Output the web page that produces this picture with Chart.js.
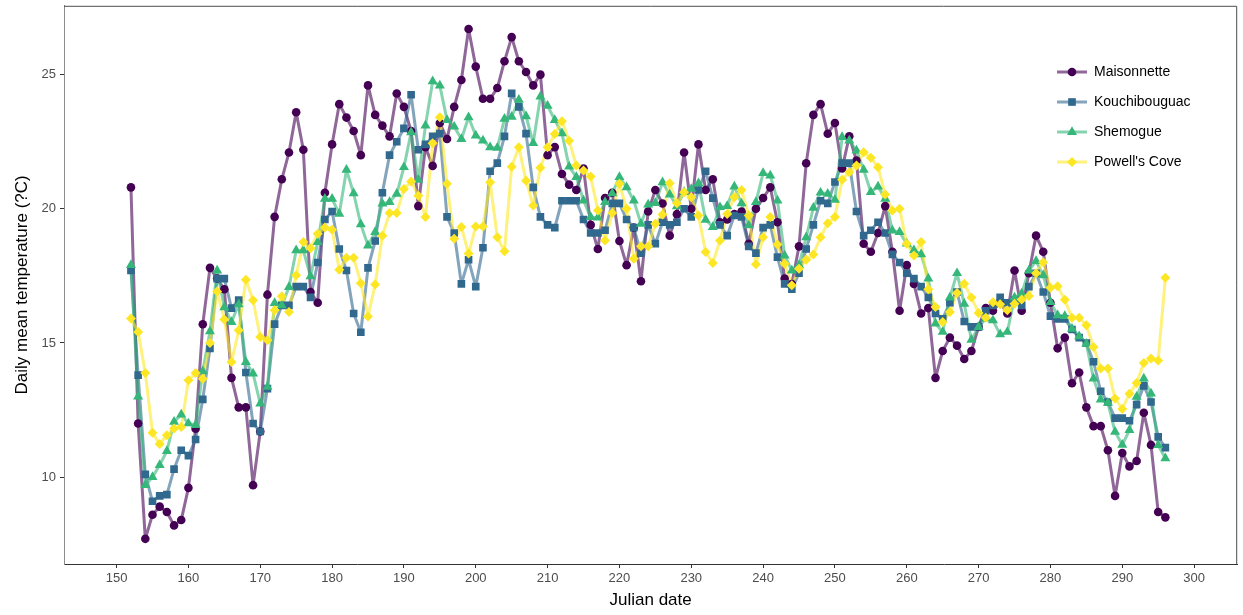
<!DOCTYPE html>
<html>
<head>
<meta charset="utf-8">
<script src="https://cdn.jsdelivr.net/npm/chart.js@4/dist/chart.umd.min.js"></script>
<style>
  html, body { margin: 0; padding: 0; background: #fff; }
  #wrap { width: 1243px; height: 615px; position: relative; }
</style>
</head>
<body>
<div id="wrap"><canvas id="tempChart"></canvas></div>
<script>
const julianDays = [
    152, 153, 154, 155, 156, 157, 158, 159, 160, 161,
    162, 163, 164, 165, 166, 167, 168, 169, 170, 171,
    172, 173, 174, 175, 176, 177, 178, 179, 180, 181,
    182, 183, 184, 185, 186, 187, 188, 189, 190, 191,
    192, 193, 194, 195, 196, 197, 198, 199, 200, 201,
    202, 203, 204, 205, 206, 207, 208, 209, 210, 211,
    212, 213, 214, 215, 216, 217, 218, 219, 220, 221,
    222, 223, 224, 225, 226, 227, 228, 229, 230, 231,
    232, 233, 234, 235, 236, 237, 238, 239, 240, 241,
    242, 243, 244, 245, 246, 247, 248, 249, 250, 251,
    252, 253, 254, 255, 256, 257, 258, 259, 260, 261,
    262, 263, 264, 265, 266, 267, 268, 269, 270, 271,
    272, 273, 274, 275, 276, 277, 278, 279, 280, 281,
    282, 283, 284, 285, 286, 287, 288, 289, 290, 291,
    292, 293, 294, 295, 296
];

const maisonnette = [
    20.8, 12.0, 7.7, 8.6, 8.9, 8.7, 8.2, 8.4, 9.6, 11.8,
    15.7, 17.8, 17.4, 17.0, 13.7, 12.6, 12.6, 9.7, 11.7, 16.8,
    19.7, 21.1, 22.1, 23.6, 22.2, 16.9, 16.5, 20.6, 22.4, 23.9,
    23.4, 22.9, 22.0, 24.6, 23.5, 23.1, 22.7, 24.3, 23.8, 22.9,
    20.1, 22.3, 21.6, 23.2, 22.6, 23.8, 24.8, 26.7, 25.3, 24.1,
    24.1, 24.5, 25.5, 26.4, 25.5, 25.1, 24.6, 25.0, 22.0, 22.3,
    21.3, 20.9, 20.7, 21.5, 19.4, 18.5, 20.4, 20.6, 18.8, 17.9,
    19.3, 17.3, 19.9, 20.7, 20.2, 19.0, 19.8, 22.1, 20.0, 22.4,
    20.7, 21.1, 19.5, 19.6, 19.8, 19.9, 18.7, 20.0, 20.4, 20.8,
    19.5, 17.4, 17.2, 18.6, 21.7, 23.5, 23.9, 22.8, 23.2, 21.5,
    22.7, 21.8, 18.7, 18.4, 19.1, 20.1, 18.4, 16.2, 17.9, 17.2,
    16.1, 16.3, 13.7, 14.7, 15.2, 14.9, 14.4, 14.7, 15.6, 16.3,
    16.2, 16.5, 16.1, 17.7, 16.2, 17.6, 19.0, 18.4, 16.5, 14.8,
    15.2, 13.5, 13.9, 12.6, 11.9, 11.9, 11.0, 9.3, 10.9, 10.4,
    10.6, 12.4, 11.2, 8.7, 8.5
];

const kouchibouguac = [
    17.7, 13.8, 10.1, 9.1, 9.3, 9.35, 10.3, 11.0, 10.8, 11.4,
    12.9, 14.8, 17.4, 17.4, 16.3, 16.6, 13.9, 12.0, 11.7, 13.3,
    15.7, 16.4, 16.4, 17.1, 17.1, 16.7, 18.0, 19.6, 19.9, 18.5,
    17.7, 16.1, 15.4, 17.8, 18.8, 20.6, 22.0, 22.5, 23.0, 24.25,
    22.2, 22.4, 22.7, 22.8, 19.7, 19.1, 17.2, 18.1, 17.1, 18.55,
    21.4, 21.7, 22.7, 24.3, 23.8, 22.8, 20.8, 19.7, 19.4, 19.3,
    20.3, 20.3, 20.3, 19.6, 19.1, 19.1, 19.2, 20.2, 20.2, 19.6,
    19.3, 18.35, 19.4, 18.7, 19.5, 19.4, 19.5, 20.0, 19.7, 20.7,
    21.4, 20.4, 19.4, 19.0, 19.75, 19.7, 18.6, 18.35, 19.3, 19.4,
    18.2, 17.2, 17.0, 17.6, 18.5, 19.4, 20.3, 20.2, 21.0, 21.7,
    21.7, 19.9, 19.0, 19.2, 19.5, 19.1, 18.3, 18.0, 17.6, 17.4,
    17.1, 16.7, 16.1, 15.9, 16.5, 16.9, 15.8, 15.6, 15.6, 16.2,
    16.4, 16.7, 16.5, 16.6, 16.4, 17.1, 17.6, 16.9, 16.0, 15.9,
    15.9, 15.5, 15.2, 15.0, 14.3, 13.2, 12.8, 12.2, 12.2, 12.1,
    12.7, 13.4, 12.8, 11.5, 11.1
];

const shemogue = [
    17.9, 13.0, 9.7, 10.0, 10.45, 10.97, 12.06, 12.33, 12.0, 11.94,
    13.94, 15.43, 17.7, 16.33, 15.78, 16.44, 14.29, 13.86, 12.74, 13.36,
    16.49, 16.4, 17.08, 18.45, 18.45, 17.48, 18.76, 20.37, 20.37, 19.81,
    21.45, 20.58, 19.42, 18.63, 19.13, 20.19, 20.25, 20.56, 21.55, 22.85,
    21.08, 23.1, 24.75, 24.59, 23.31, 23.06, 22.6, 23.41, 22.73, 22.54,
    22.29, 22.27, 23.35, 23.43, 24.06, 23.45, 22.45, 24.18, 23.84, 23.31,
    22.81, 21.57, 21.18, 20.31, 19.69, 19.67, 20.25, 20.58, 21.18, 20.8,
    20.31, 19.44, 20.16, 20.21, 20.99, 20.53, 20.09, 20.62, 20.74, 20.95,
    19.59, 19.32, 20.06, 20.1, 20.83, 20.2, 19.38, 20.25, 21.33, 21.24,
    20.31, 18.26, 17.7, 17.9, 18.94, 20.04, 20.6, 20.56, 20.33, 22.67,
    22.54, 22.17, 21.45, 20.62, 20.83, 20.37, 19.19, 19.13, 18.7, 18.45,
    18.3, 17.4, 15.72, 15.41, 16.69, 17.6, 16.46, 15.12, 15.59, 15.91,
    15.84, 15.32, 15.41, 16.69, 16.84, 17.7, 18.05, 17.52, 16.52, 16.03,
    16.0, 15.53, 15.25, 14.97, 13.67, 12.89, 12.77, 11.69, 11.2, 11.75,
    12.99, 13.67, 13.11, 11.19, 10.7
];

const powellsCove = [
    15.91, 15.41, 13.88, 11.65, 11.23, 11.56, 11.81, 11.87, 13.61, 13.88,
    13.67, 15.0, 16.92, 15.87, 14.29, 15.47, 17.36, 16.59, 15.22, 15.1,
    16.22, 16.74, 16.15, 17.52, 18.76, 18.53, 19.07, 19.3, 19.22, 17.73,
    18.18, 18.18, 17.23, 15.99, 17.18, 19.0, 19.84, 19.84, 20.74, 21.02,
    20.49, 19.69, 22.44, 23.41, 20.93, 18.88, 19.32, 18.33, 19.34, 19.34,
    20.99, 18.94, 18.42, 21.57, 22.29, 21.05, 20.12, 21.53, 22.29, 22.79,
    23.26, 22.54, 21.61, 21.43, 21.2, 19.94, 18.82, 19.84, 20.93, 20.0,
    18.14, 18.6, 18.6, 19.44, 19.79, 20.95, 20.21, 20.62, 20.43, 19.75,
    18.39, 17.98, 18.82, 19.81, 20.43, 20.7, 19.75, 17.93, 18.94, 19.69,
    18.67, 17.95, 17.15, 17.77, 18.1, 18.3, 18.94, 19.46, 19.69, 21.08,
    21.36, 21.61, 22.11, 21.9, 21.55, 20.53, 19.94, 20.0, 18.7, 18.26,
    18.76, 17.0, 16.34, 15.78, 16.15, 16.86, 17.21, 16.69, 16.12, 15.94,
    16.52, 16.44, 16.22, 16.46, 16.62, 16.75, 17.6, 18.01, 17.06, 17.11,
    16.61, 15.94, 15.94, 15.66, 14.85, 14.05, 14.05, 12.93, 12.54, 13.11,
    13.51, 14.25, 14.42, 14.35, 17.43
];

const siteNames = ['Maisonnette', 'Kouchibouguac', 'Shemogue', "Powell's Cove"];
const siteValues = [maisonnette, kouchibouguac, shemogue, powellsCove];
const xTicks = [150, 160, 170, 180, 190, 200, 210, 220, 230, 240, 250, 260, 270, 280, 290, 300];
const yTicks = [10, 15, 20, 25];

// viridis colours, ggplot shapes 16 / 15 / 17 / 18
const siteColors = [[68, 1, 84], [49, 104, 142], [53, 183, 121], [253, 231, 37]];
const siteShapes = ['circle', 'rect', 'triangle', 'rectRot'];
const siteSizes = [4.3, 5.4, 5.8, 5.0];

const rgba = (c, a) => `rgba(${c[0]}, ${c[1]}, ${c[2]}, ${a})`;
const toPoints = vals => julianDays.map((d, i) => ({ x: d, y: vals[i] }));

Chart.defaults.font.family = '"Liberation Sans", Arial, sans-serif';

const datasets = [];
// lines first (bottom), then points, like geom_line() + geom_point()
siteNames.forEach((name, i) => {
    datasets.push({
        label: name,
        data: toPoints(siteValues[i]),
        borderColor: rgba(siteColors[i], 0.6),
        borderWidth: 3,
        borderJoinStyle: 'round',
        borderCapStyle: 'round',
        pointRadius: 0,
        tension: 0,
        fill: false,
        order: 8 - i
    });
});
siteNames.forEach((name, i) => {
    datasets.push({
        label: name + ' pts',
        data: toPoints(siteValues[i]),
        showLine: false,
        pointStyle: siteShapes[i],
        pointRadius: siteSizes[i],
        pointBackgroundColor: rgba(siteColors[i], 1),
        pointBorderWidth: 0,
        order: 4 - i
    });
});

function drawShape(ctx, shape, x, y, r) {
    if (Chart.helpers && Chart.helpers.drawPoint) {
        Chart.helpers.drawPoint(ctx, { pointStyle: shape, radius: r, rotation: 0, borderWidth: 0 }, x, y);
        return;
    }
    ctx.beginPath();
    ctx.arc(x, y, r, 0, Math.PI * 2);
    ctx.fill();
}

const frameAndKey = {
    id: 'frameAndKey',
    afterDraw(chart) {
        const { ctx, chartArea: a } = chart;
        ctx.save();
        ctx.strokeStyle = '#4d4d4d';
        ctx.lineWidth = 1;
        ctx.beginPath();
        ctx.moveTo(a.left, a.top + 0.5);
        ctx.lineTo(a.right - 0.5, a.top + 0.5);
        ctx.lineTo(a.right - 0.5, a.bottom);
        ctx.stroke();

        siteNames.forEach((name, i) => {
            const y = 72 + i * 30;
            ctx.strokeStyle = rgba(siteColors[i], 0.6);
            ctx.lineWidth = 3;
            ctx.beginPath();
            ctx.moveTo(1057, y);
            ctx.lineTo(1087, y);
            ctx.stroke();
            ctx.fillStyle = rgba(siteColors[i], 1);
            drawShape(ctx, siteShapes[i], 1072, y, siteSizes[i]);
            ctx.fillStyle = '#000';
            ctx.font = '14px "Liberation Sans", Arial, sans-serif';
            ctx.textBaseline = 'middle';
            ctx.textAlign = 'left';
            ctx.fillText(name, 1094, y);
        });
        ctx.restore();
    }
};

new Chart(document.getElementById('tempChart'), {
    type: 'line',
    data: { datasets },
    options: {
        responsive: true,
        maintainAspectRatio: false,
        animation: false,
        layout: { padding: { top: 5, right: -3, left: 0, bottom: 0 } },
        plugins: {
            legend: { display: false },
            tooltip: { enabled: false }
        },
        scales: {
            x: {
                type: 'linear',
                min: 142.68,
                max: 306,
                afterBuildTicks: s => { s.ticks = xTicks.map(v => ({ value: v })); },
                afterFit: s => { s.height = 51; s.paddingLeft = 0; s.paddingRight = 0; },
                ticks: { color: '#4d4d4d', font: { size: 13 }, padding: 3, maxRotation: 0, autoSkip: false },
                grid: { drawOnChartArea: false, drawTicks: true, tickLength: 4, color: '#333' },
                border: { display: true, color: '#333', width: 1 },
                title: { display: true, text: 'Julian date', color: '#000', font: { size: 17 }, padding: { top: 0, bottom: 4 } }
            },
            y: {
                min: 6.762,
                max: 27.566,
                afterBuildTicks: s => { s.ticks = yTicks.map(v => ({ value: v })); },
                afterFit: s => { s.width = 64; s.paddingTop = 0; s.paddingBottom = 0; },
                ticks: { color: '#4d4d4d', font: { size: 13 }, padding: 4 },
                grid: { drawOnChartArea: false, drawTicks: true, tickLength: 4, color: '#333' },
                border: { display: true, color: '#8c8c8c', width: 1 },
                title: { display: true, text: 'Daily mean temperature (?C)', color: '#000', font: { size: 17 }, padding: { top: 12, bottom: 0 } }
            }
        }
    },
    plugins: [frameAndKey]
});
</script>
</body>
</html>
